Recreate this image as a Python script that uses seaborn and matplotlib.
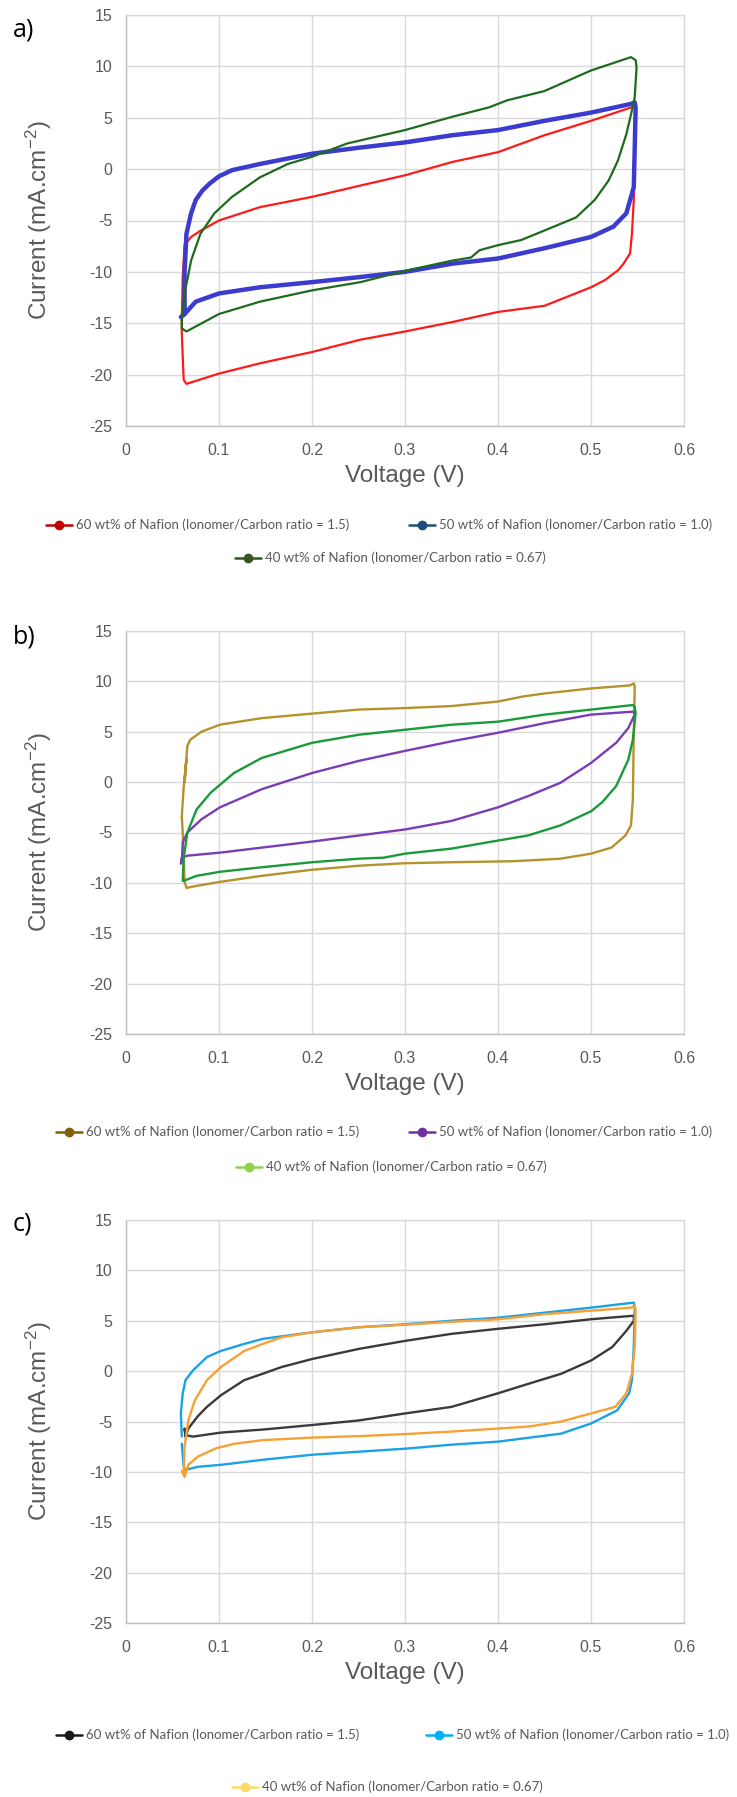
import numpy as np
import pandas as pd
import matplotlib
matplotlib.use("Agg")
import matplotlib.pyplot as plt
from matplotlib.lines import Line2D
from matplotlib import font_manager
import seaborn as sns

# ---------------- data ----------------
series_labels = [
    "60 wt% of Nafion (Ionomer/Carbon ratio = 1.5)",
    "50 wt% of Nafion (Ionomer/Carbon ratio = 1.0)",
    "40 wt% of Nafion (Ionomer/Carbon ratio = 0.67)",
]
x_ticks = [0, 0.1, 0.2, 0.3, 0.4, 0.5, 0.6]
y_ticks = [-25, -20, -15, -10, -5, 0, 5, 10, 15]
x_tick_labels = ["0", "0.1", "0.2", "0.3", "0.4", "0.5", "0.6"]
y_tick_labels = ["-25", "-20", "-15", "-10", "-5", "0", "5", "10", "15"]

# panel a
a60_v = [0.060, 0.061, 0.063, 0.070, 0.080, 0.100, 0.144, 0.200, 0.252, 0.300, 0.351, 0.400, 0.450, 0.500, 0.543, 0.547,
         0.548, 0.546, 0.544, 0.542, 0.535, 0.529, 0.515, 0.500, 0.450, 0.400, 0.350, 0.300, 0.252, 0.200, 0.144, 0.100,
         0.065, 0.062, 0.060, 0.060]
a60_i = [-14.5, -10.5, -7.4, -6.6, -6.0, -5.0, -3.7, -2.7, -1.6, -0.6, 0.7, 1.65, 3.3, 4.7, 6.0, 6.1,
         5.5, -3.0, -6.3, -8.2, -9.2, -9.85, -10.8, -11.5, -13.3, -13.9, -14.9, -15.8, -16.6, -17.8, -18.9, -19.9,
         -20.9, -20.5, -16.0, -14.5]
a50_v = [0.063, 0.063, 0.065, 0.070, 0.075, 0.082, 0.090, 0.100, 0.114, 0.144, 0.200, 0.252, 0.300, 0.351, 0.400, 0.450, 0.500, 0.543, 0.547,
         0.548, 0.547, 0.546, 0.538, 0.524, 0.500, 0.450, 0.400, 0.351, 0.300, 0.252, 0.200, 0.144, 0.100, 0.075, 0.063, 0.059]
a50_i = [-14.1, -10.0, -6.3, -4.3, -3.0, -2.1, -1.4, -0.7, -0.1, 0.5, 1.5, 2.1, 2.6, 3.3, 3.8, 4.7, 5.5, 6.35, 6.5,
         6.0, 2.0, -1.75, -4.3, -5.6, -6.6, -7.7, -8.7, -9.2, -10.0, -10.5, -11.0, -11.5, -12.1, -12.9, -14.1, -14.4]
a40_v = [0.060, 0.063, 0.070, 0.080, 0.095, 0.114, 0.144, 0.174, 0.200, 0.238, 0.300, 0.351, 0.390, 0.410, 0.450, 0.500, 0.543, 0.548,
         0.549, 0.547, 0.544, 0.538, 0.529, 0.519, 0.504, 0.484, 0.460, 0.425, 0.400, 0.380, 0.371, 0.351, 0.300, 0.252, 0.200,
         0.144, 0.100, 0.065, 0.060, 0.060]
a40_i = [-14.7, -12.1, -8.9, -6.3, -4.3, -2.7, -0.8, 0.5, 1.2, 2.5, 3.8, 5.1, 6.0, 6.7, 7.6, 9.6, 10.9, 10.6,
         9.9, 7.0, 5.7, 3.4, 0.85, -1.1, -3.0, -4.7, -5.6, -6.9, -7.4, -7.9, -8.6, -8.9, -9.9, -11.0, -11.8,
         -12.9, -14.1, -15.8, -15.5, -14.7]

# panel b
b60_v = [0.060, 0.062, 0.065, 0.063, 0.065, 0.066, 0.069, 0.081, 0.101, 0.146, 0.200, 0.250, 0.300, 0.350, 0.400, 0.427, 0.450, 0.500, 0.542, 0.546,
         0.547, 0.546, 0.545, 0.543, 0.537, 0.522, 0.500, 0.467, 0.417, 0.350, 0.300, 0.250, 0.200, 0.146, 0.101, 0.076, 0.065, 0.063, 0.061, 0.060]
b60_i = [-3.4, -0.5, 2.3, 0.0, 2.5, 3.6, 4.2, 5.0, 5.7, 6.35, 6.8, 7.2, 7.35, 7.55, 8.0, 8.5, 8.8, 9.3, 9.6, 9.8,
         9.5, 4.9, -1.7, -4.3, -5.3, -6.5, -7.1, -7.6, -7.85, -7.95, -8.05, -8.3, -8.7, -9.3, -9.9, -10.3, -10.5, -9.9, -5.0, -3.4]
b50_v = [0.060, 0.061, 0.066, 0.081, 0.101, 0.146, 0.200, 0.250, 0.300, 0.350, 0.400, 0.450, 0.500, 0.546,
         0.547, 0.540, 0.527, 0.500, 0.467, 0.432, 0.400, 0.350, 0.300, 0.250, 0.200, 0.146, 0.101, 0.066, 0.060, 0.059]
b50_i = [-8.0, -6.0, -5.0, -3.7, -2.5, -0.7, 0.9, 2.1, 3.1, 4.05, 4.9, 5.85, 6.7, 7.0,
         6.7, 5.35, 3.9, 1.9, -0.07, -1.4, -2.5, -3.85, -4.7, -5.3, -5.9, -6.5, -7.0, -7.3, -7.5, -8.1]
b40_v = [0.061, 0.062, 0.066, 0.076, 0.091, 0.116, 0.146, 0.200, 0.250, 0.300, 0.350, 0.400, 0.450, 0.500, 0.545, 0.547,
         0.548, 0.545, 0.540, 0.527, 0.512, 0.500, 0.467, 0.432, 0.400, 0.350, 0.300, 0.277, 0.250, 0.200, 0.146, 0.101, 0.076, 0.062]
b40_i = [-9.8, -7.6, -5.0, -2.7, -1.05, 0.9, 2.4, 3.9, 4.7, 5.2, 5.7, 6.0, 6.7, 7.2, 7.65, 7.5,
         6.85, 4.2, 2.2, -0.4, -2.0, -2.9, -4.3, -5.3, -5.8, -6.6, -7.1, -7.5, -7.6, -7.95, -8.45, -8.9, -9.3, -9.8]

# panel c
c60_v = [0.064, 0.067, 0.077, 0.087, 0.102, 0.127, 0.147, 0.167, 0.200, 0.250, 0.300, 0.350, 0.400, 0.450, 0.500, 0.546,
         0.546, 0.538, 0.523, 0.500, 0.468, 0.433, 0.400, 0.350, 0.300, 0.250, 0.200, 0.147, 0.102, 0.072, 0.064, 0.063, 0.064]
c60_i = [-6.5, -5.7, -4.5, -3.55, -2.4, -0.9, -0.26, 0.4, 1.2, 2.2, 3.0, 3.7, 4.2, 4.65, 5.15, 5.5,
         5.0, 4.0, 2.4, 1.05, -0.26, -1.25, -2.2, -3.55, -4.2, -4.9, -5.35, -5.8, -6.1, -6.5, -6.35, -5.7, -6.5]
c50_v = [0.060, 0.059, 0.061, 0.064, 0.072, 0.087, 0.102, 0.127, 0.147, 0.200, 0.250, 0.300, 0.350, 0.400, 0.450, 0.500, 0.546,
         0.547, 0.546, 0.544, 0.541, 0.528, 0.500, 0.468, 0.400, 0.350, 0.300, 0.250, 0.200, 0.147, 0.102, 0.077, 0.064, 0.062, 0.060]
c50_i = [-6.5, -4.2, -2.2, -0.9, 0.07, 1.4, 2.0, 2.7, 3.2, 3.85, 4.35, 4.65, 5.0, 5.3, 5.8, 6.3, 6.8,
         6.3, 2.4, -0.9, -2.2, -3.9, -5.2, -6.2, -7.0, -7.3, -7.7, -8.0, -8.3, -8.8, -9.3, -9.5, -9.8, -9.5, -7.2]
c40_v = [0.062, 0.063, 0.067, 0.074, 0.087, 0.102, 0.127, 0.147, 0.167, 0.200, 0.250, 0.300, 0.350, 0.400, 0.450, 0.500, 0.543, 0.547,
         0.548, 0.547, 0.544, 0.538, 0.526, 0.500, 0.468, 0.433, 0.400, 0.350, 0.300, 0.250, 0.200, 0.147, 0.117, 0.097, 0.077, 0.067, 0.063, 0.060]
c40_i = [-10.1, -7.5, -4.9, -2.9, -0.9, 0.4, 2.0, 2.7, 3.35, 3.85, 4.35, 4.6, 4.9, 5.15, 5.65, 6.0, 6.3, 6.5,
         6.0, 2.4, -0.26, -2.2, -3.55, -4.2, -5.0, -5.5, -5.7, -6.0, -6.25, -6.45, -6.6, -6.85, -7.2, -7.65, -8.5, -9.3, -10.5, -9.9]

# ---------------- style ----------------
sns.set_theme(style="white")
names = {f.name for f in font_manager.fontManager.ttflist}
legend_font = "Lato" if "Lato" in names else "Liberation Sans"
legend_size = 9.5 if legend_font == "Lato" else 9.0
plt.rcParams["font.family"] = ["Liberation Sans", "DejaVu Sans"]
plt.rcParams["mathtext.default"] = "regular"

GRAY = "#595959"
GRID = "#D9D9D9"
W, H = 737, 1797
fig = plt.figure(figsize=(W / 100, H / 100), dpi=100)

panels = [
    dict(tag="a)", top=15, bottom=426, tagy=30,
         data=[(a60_v, a60_i, "#FF1A1A", 1.6), (a50_v, a50_i, "#3B3BD0", 3.2), (a40_v, a40_i, "#1E6B1E", 1.6)],
         leg_colors=["#C00000", "#1F4E79", "#375623"],
         leg=[(46, 525), (409, 525), (235, 558)]),
    dict(tag="b)", top=631, bottom=1034, tagy=637,
         data=[(b60_v, b60_i, "#B4922C", 1.7), (b50_v, b50_i, "#7A3DB5", 1.7), (b40_v, b40_i, "#1A9A3A", 1.7)],
         leg_colors=["#7F6000", "#7030A0", "#92D050"],
         leg=[(56, 1132), (409, 1132), (236, 1167)]),
    dict(tag="c)", top=1220, bottom=1623, tagy=1224,
         data=[(c60_v, c60_i, "#3A3A3A", 1.7), (c50_v, c50_i, "#1BA1E6", 1.7), (c40_v, c40_i, "#F7A035", 1.7)],
         leg_colors=["#1A1A1A", "#00B0F0", "#FFD966"],
         leg=[(56, 1735), (426, 1735), (232, 1787)]),
]

LEFT, RIGHT = 126, 684
for p in panels:
    ax = fig.add_axes([LEFT / W, 1 - p["bottom"] / H, (RIGHT - LEFT) / W, (p["bottom"] - p["top"]) / H])
    for v, i, col, lw in p["data"]:
        df = pd.DataFrame({"V": v, "I": i})
        sns.lineplot(data=df, x="V", y="I", sort=False, estimator=None, color=col, lw=lw, ax=ax,
                     solid_joinstyle="round", solid_capstyle="round")
    ax.set_xlim(0, 0.6)
    ax.set_ylim(-25, 15)
    ax.set_xticks(x_ticks)
    ax.set_xticklabels(x_tick_labels)
    ax.set_yticks(y_ticks)
    ax.set_yticklabels(y_tick_labels)
    ax.grid(True, color=GRID, lw=1.0)
    ax.set_axisbelow(True)
    for s in ["top", "right"]:
        ax.spines[s].set_color(GRID)
        ax.spines[s].set_linewidth(1.0)
    for s in ["left", "bottom"]:
        ax.spines[s].set_color("#BFBFBF")
        ax.spines[s].set_linewidth(1.0)
    ax.tick_params(axis="both", length=0, labelsize=11.5, labelcolor=GRAY)
    ax.tick_params(axis="x", pad=12)
    ax.tick_params(axis="y", pad=10)
    ax.set_xlabel("Voltage (V)", fontsize=17.5, color=GRAY)
    ax.set_ylabel("Current (mA.cm$^{-2}$)", fontsize=17.5, color=GRAY)
    hpx = p["bottom"] - p["top"]
    ax.xaxis.set_label_coords(0.5, -39 / hpx)
    ax.yaxis.set_label_coords(-(LEFT - 54) / (RIGHT - LEFT), 0.5)
    fig.text(13 / W, 1 - p["tagy"] / H, p["tag"], fontsize=18, family=["Open Sans", "DejaVu Sans"],
             color="black", ha="left", va="center")
    for k, (lx, ly) in enumerate(p["leg"]):
        h = Line2D([], [], color=p["leg_colors"][k], lw=1.8, marker="o", markersize=6)
        lg = fig.legend(handles=[h], labels=[series_labels[k]], loc="center left",
                        bbox_to_anchor=(lx / W, 1 - ly / H), frameon=False, borderpad=0,
                        borderaxespad=0, handlelength=2.0, handletextpad=0.3, numpoints=1,
                        prop={"family": legend_font, "size": legend_size})
        for t in lg.get_texts():
            t.set_color(GRAY)

fig.savefig("out.png", dpi=100, facecolor="white")
